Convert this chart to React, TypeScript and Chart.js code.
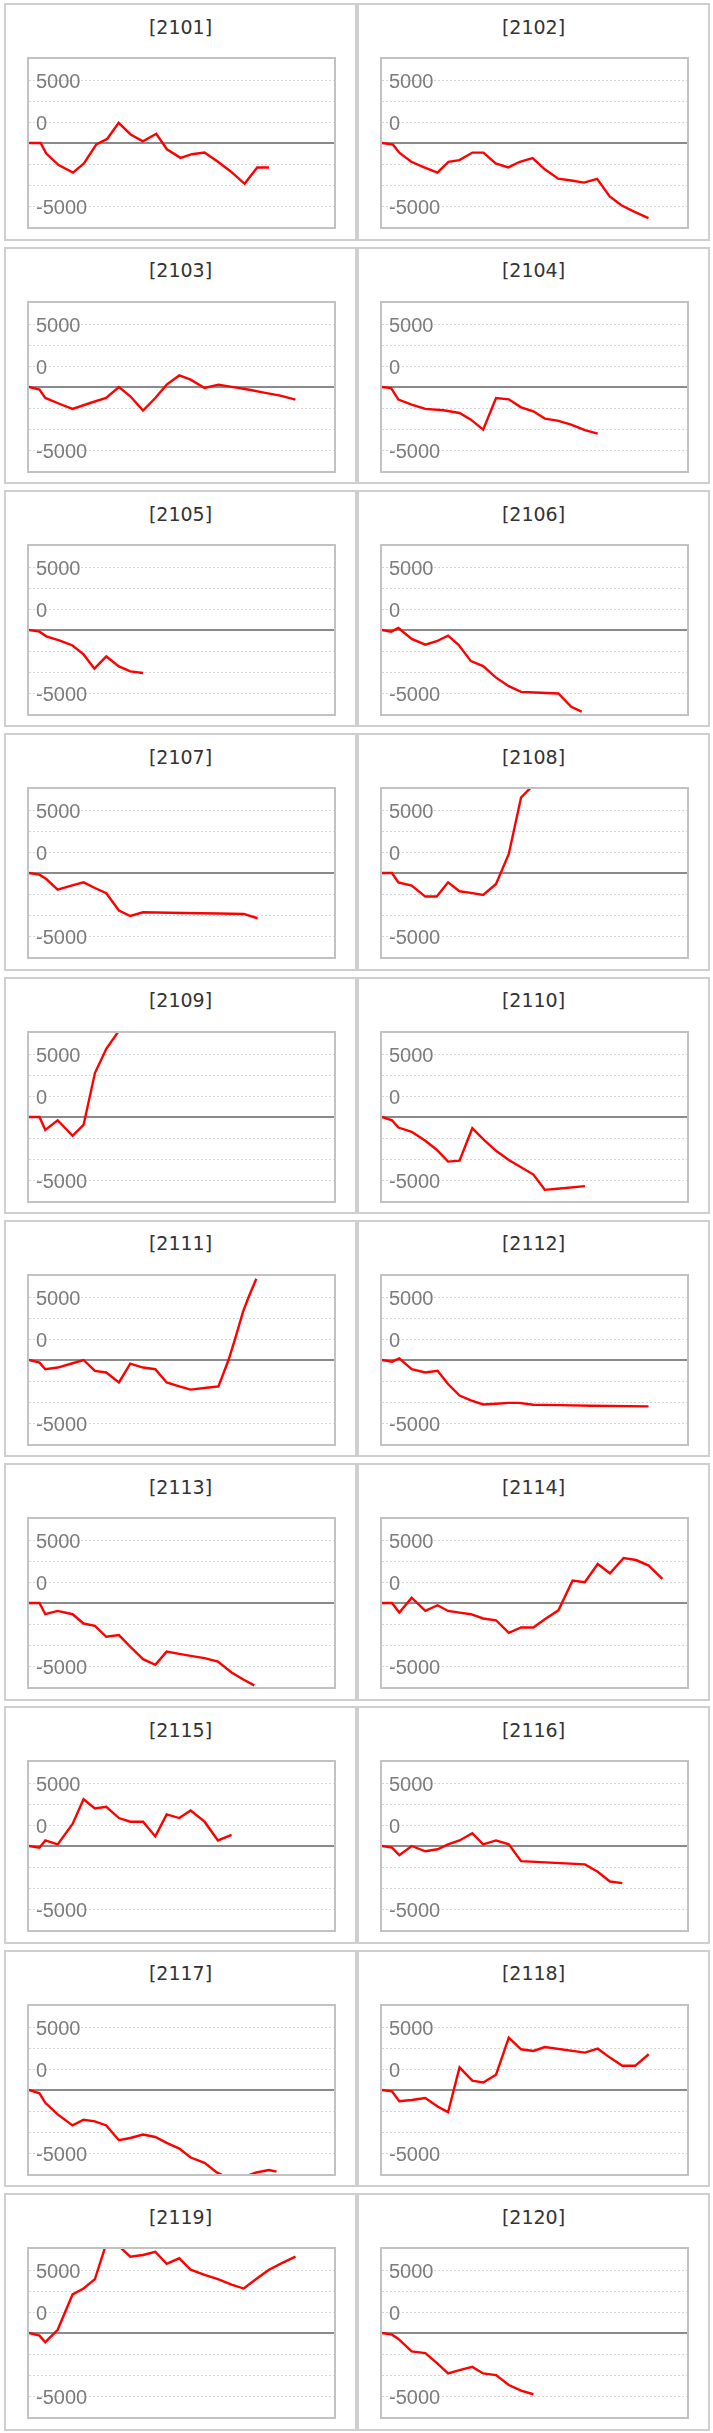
import React, { useEffect, useRef } from "react";
import { Chart, registerables } from "chart.js";

Chart.register(...registerables);

// ---- axis settings ----
const GRID_STEP = 5000 / 3;
const GRID_STEPS = [-4, -3, -2, -1, 0, 1, 2, 3, 4];
const Y_LABEL_TEXTS = ["5000", "0", "-5000"];
const Y_LABEL_STEPS = [3, 1, -3];
const X_MAX = 24.15;

// ---- data (x = trading-step index, y = cumulative value) ----
const X_2101 = [0, 0.92, 1.37, 2.35, 3.48, 4.35, 5.33, 6.2, 7.1, 8.05, 9.02, 10.08, 10.92, 12, 12.9, 13.9, 14.96, 16, 17.07, 18.07, 19];
const Y_2101 = [0, 0, -840, -1750, -2350, -1620, -110, 340, 1600, 680, 130, 730, -500, -1180, -890, -760, -1490, -2280, -3240, -1940, -1940];

const X_2102 = [0, 0.87, 1.39, 2.32, 3.34, 4.39, 5.26, 6.13, 7.16, 8.03, 9, 10, 10.92, 11.92, 12.89, 13.95, 15, 16, 17.03, 18.03, 18.95, 20, 21.1];
const Y_2102 = [0, -130, -790, -1490, -1940, -2350, -1490, -1360, -760, -760, -1620, -1940, -1490, -1200, -2090, -2830, -2980, -3140, -2850, -4240, -4940, -5470, -5960];

const X_2103 = [0, 0.83, 1.29, 2.45, 3.45, 4.78, 6.1, 7.12, 8.02, 9.03, 10, 10.9, 11.9, 12.8, 13.9, 15, 16.3, 17.55, 18.6, 19.9, 21.1];
const Y_2103 = [0, -210, -870, -1350, -1740, -1290, -870, 0, -740, -1870, -870, 190, 920, 580, -80, 190, -30, -240, -450, -690, -1000];

const X_2104 = [0, 0.72, 1.3, 2.35, 3.43, 4.87, 6.14, 7.04, 8.01, 9.03, 10.04, 11.01, 11.99, 12.89, 13.9, 14.98, 16.07, 17.08];
const Y_2104 = [0, -80, -1000, -1400, -1740, -1850, -2060, -2590, -3380, -870, -980, -1610, -1930, -2510, -2670, -2980, -3430, -3700];

const X_2105 = [0, 0.83, 1.37, 2.45, 3.45, 4.32, 5.18, 6.12, 7.12, 8.02, 9.03];
const Y_2105 = [0, -130, -500, -840, -1230, -1940, -3070, -2100, -2890, -3280, -3410];

const X_2106 = [0, 0.72, 1.3, 2.35, 3.43, 4.33, 5.23, 6.06, 7.04, 8.01, 9.03, 10.04, 11.01, 12.09, 13.97, 14.98, 15.81];
const Y_2106 = [0, -130, 160, -710, -1160, -890, -450, -1180, -2470, -2860, -3780, -4460, -4910, -4960, -5040, -6090, -6480];

const X_2107 = [0, 0.83, 1.37, 2.27, 3.35, 4.32, 5.22, 6.12, 7.12, 8.02, 9.03, 12.16, 15.03, 17, 18.1];
const Y_2107 = [0, -130, -480, -1320, -1000, -740, -1190, -1610, -2980, -3410, -3120, -3170, -3220, -3250, -3590];

const X_2108 = [0, 0.79, 1.3, 2.35, 3.43, 4.33, 5.23, 6.14, 7.04, 8.01, 9.03, 10.04, 11.01, 12];
const Y_2108 = [0, 0, -740, -1000, -1870, -1870, -740, -1450, -1580, -1740, -870, 1510, 5990, 7000];

const X_2109 = [0, 0.83, 1.29, 2.27, 3.45, 4.32, 5.22, 6.12, 7.3];
const Y_2109 = [0, 0, -1020, -260, -1500, -630, 3490, 5410, 7100];

const X_2110 = [0, 0.79, 1.3, 2.35, 3.43, 4.33, 5.23, 6.14, 7.15, 8.01, 9.03, 10.04, 11.01, 11.99, 12.89, 13.9, 16.07];
const Y_2110 = [0, -260, -840, -1180, -1890, -2600, -3540, -3470, -890, -1760, -2680, -3410, -3990, -4570, -5780, -5700, -5490];

const X_2111 = [0, 0.83, 1.29, 2.27, 3.45, 4.32, 5.22, 6.12, 7.12, 8.02, 9.03, 10, 10.9, 11.9, 12.8, 13.9, 15, 15.8, 16.3, 16.95, 17.4, 18];
const Y_2111 = [0, -210, -730, -600, -260, 0, -860, -990, -1780, -290, -600, -730, -1780, -2090, -2350, -2220, -2090, 0, 1620, 3840, 5020, 6450];

const X_2112 = [0, 0.79, 1.37, 2.35, 3.43, 4.4, 5.23, 6.14, 7.04, 8.01, 9.03, 10.04, 10.83, 11.99, 14.08, 16.6, 21.1];
const Y_2112 = [0, -130, 130, -730, -990, -860, -1910, -2820, -3210, -3530, -3470, -3400, -3400, -3550, -3580, -3630, -3680];

const X_2113 = [0, 0.83, 1.29, 2.27, 3.45, 4.32, 5.22, 6.12, 7.12, 8.02, 9.03, 10, 10.9, 11.9, 12.8, 13.9, 14.96, 16.04, 17, 17.84];
const Y_2113 = [0, 0, -890, -630, -890, -1630, -1810, -2680, -2550, -3470, -4460, -4910, -3860, -4040, -4200, -4380, -4650, -5510, -6090, -6540];

const X_2114 = [0, 0.79, 1.37, 2.35, 3.43, 4.4, 5.23, 6.14, 7.04, 8.01, 9.03, 10.04, 11.01, 11.99, 12.89, 13.97, 15.09, 16.06, 17.08, 18.05, 19.13, 20.11, 21.12, 22.2];
const Y_2114 = [0, 0, -760, 420, -630, -180, -630, -760, -890, -1230, -1370, -2360, -1940, -1940, -1290, -580, 1790, 1650, 3100, 2360, 3570, 3410, 2970, 1920];

const X_2115 = [0, 0.83, 1.29, 2.27, 3.45, 4.32, 5.22, 6.12, 7.12, 8.02, 9.03, 10, 10.9, 11.9, 12.8, 13.9, 14.96, 16.04];
const Y_2115 = [0, -130, 440, 130, 1750, 3710, 2980, 3110, 2220, 1930, 1930, 760, 2510, 2220, 2820, 1930, 440, 890];

const X_2116 = [0, 0.79, 1.37, 2.35, 3.43, 4.4, 5.23, 6.14, 7.15, 8.01, 9.03, 10.04, 11.01, 16.07, 17.08, 18.05, 19.03];
const Y_2116 = [0, -130, -730, 0, -420, -260, 130, 440, 1020, 130, 440, 130, -1200, -1460, -2040, -2820, -2950];

const X_2117 = [0, 0.83, 1.29, 2.27, 3.45, 4.32, 5.22, 6.12, 7.12, 8.02, 9.03, 10, 10.9, 11.9, 12.8, 13.9, 14.87, 16, 17, 18, 19, 19.6];
const Y_2117 = [0, -260, -1020, -1940, -2810, -2360, -2490, -2810, -3990, -3810, -3540, -3730, -4200, -4650, -5360, -5780, -6540, -7100, -6900, -6550, -6350, -6480];

const X_2118 = [0, 0.79, 1.37, 2.35, 3.43, 4.4, 5.23, 6.14, 7.15, 8.01, 9.03, 10.04, 11.01, 11.99, 12.89, 16.07, 17.08, 18.05, 19.03, 20.04, 21.12];
const Y_2118 = [0, -110, -890, -790, -630, -1310, -1760, 1790, 740, 600, 1210, 4150, 3230, 3100, 3410, 2970, 3280, 2570, 1920, 1920, 2840];

const X_2119 = [0, 0.83, 1.29, 2.27, 3.45, 4.32, 5.22, 6.12, 7.12, 8.02, 9.03, 10, 10.9, 11.9, 12.8, 13.9, 14.96, 16.04, 17, 18.1, 19, 20.1, 21.1];
const Y_2119 = [0, -210, -730, 260, 3060, 3530, 4280, 7100, 6900, 6060, 6190, 6450, 5490, 5930, 5020, 4620, 4280, 3840, 3530, 4360, 5020, 5590, 6060];

const X_2120 = [0, 0.79, 1.3, 2.35, 3.43, 4.4, 5.23, 6.14, 7.15, 8.01, 9.03, 10.04, 11.01, 11.99];
const Y_2120 = [0, -130, -470, -1460, -1590, -2430, -3210, -2950, -2690, -3210, -3340, -4130, -4570, -4860];

const PANEL_TITLES = [
  "2101", "2102", "2103", "2104", "2105", "2106", "2107", "2108", "2109", "2110",
  "2111", "2112", "2113", "2114", "2115", "2116", "2117", "2118", "2119", "2120",
];
const PANEL_X = [X_2101, X_2102, X_2103, X_2104, X_2105, X_2106, X_2107, X_2108, X_2109, X_2110,
  X_2111, X_2112, X_2113, X_2114, X_2115, X_2116, X_2117, X_2118, X_2119, X_2120];
const PANEL_Y = [Y_2101, Y_2102, Y_2103, Y_2104, Y_2105, Y_2106, Y_2107, Y_2108, Y_2109, Y_2110,
  Y_2111, Y_2112, Y_2113, Y_2114, Y_2115, Y_2116, Y_2117, Y_2118, Y_2119, Y_2120];

const stepOf = (v: number) => Math.round(v / GRID_STEP);

function Panel({ title, xs, ys, left, top }: { title: string; xs: number[]; ys: number[]; left: number; top: number }) {
  const ref = useRef<HTMLCanvasElement>(null);
  useEffect(() => {
    const chart = new Chart(ref.current as HTMLCanvasElement, {
      type: "line",
      data: {
        datasets: [
          {
            data: xs.map((x, i) => ({ x, y: ys[i] })),
            borderColor: "#ff0000",
            borderWidth: 2.4,
            pointRadius: 0,
            tension: 0,
            fill: false,
          },
        ],
      },
      options: {
        animation: false,
        responsive: false,
        maintainAspectRatio: false,
        layout: { padding: 0 },
        plugins: { legend: { display: false }, tooltip: { enabled: false } },
        scales: {
          x: { type: "linear", display: false, min: 0, max: X_MAX },
          y: {
            type: "linear",
            min: -4 * GRID_STEP,
            max: 4 * GRID_STEP,
            afterBuildTicks: (scale: any) => {
              scale.ticks = GRID_STEPS.map((k) => ({ value: k * GRID_STEP }));
            },
            afterFit: (scale: any) => {
              scale.width = 0;
              scale.paddingTop = 0;
              scale.paddingBottom = 0;
            },
            ticks: {
              autoSkip: false,
              mirror: true,
              padding: 7,
              labelOffset: 2.5,
              color: "#7c7c7c",
              font: { family: '"Liberation Sans", Arial, sans-serif', size: 20 },
              callback: (value: any) => {
                const idx = Y_LABEL_STEPS.indexOf(stepOf(Number(value)));
                return idx >= 0 ? Y_LABEL_TEXTS[idx] : "";
              },
            },
            grid: {
              drawTicks: false,
              color: (ctx: any) => {
                const k = stepOf(ctx.tick ? ctx.tick.value : 1);
                if (Math.abs(k) >= 4) return "rgba(0,0,0,0)";
                return k === 0 ? "#8a8a8a" : "#d6d6d6";
              },
              lineWidth: (ctx: any) => (ctx.tick && stepOf(ctx.tick.value) === 0 ? 2 : 1),
            },
            border: {
              display: false,
              dash: (ctx: any) => (ctx.tick && stepOf(ctx.tick.value) === 0 ? [] : [2, 2]),
            },
          },
        },
      },
    } as any);
    return () => chart.destroy();
  }, []);

  return (
    <div
      style={{
        position: "absolute",
        left,
        top,
        width: 353,
        height: 237.5,
        boxSizing: "border-box",
        border: "2px solid #cfcfcf",
        background: "#fff",
      }}
    >
      <div
        style={{
          position: "absolute",
          left: 0,
          right: 0,
          top: 9.7,
          lineHeight: "24px",
          textAlign: "center",
          fontFamily: '"DejaVu Sans", Verdana, sans-serif',
          fontSize: 19,
          color: "#333",
        }}
      >
        [{title}]
      </div>
      <div
        style={{
          position: "absolute",
          left: 20.7,
          top: 52,
          width: 305,
          height: 168,
          border: "2px solid #c2c2c2",
        }}
      >
        <canvas ref={ref} width={305} height={168} style={{ display: "block", width: 305, height: 168 }} />
      </div>
    </div>
  );
}

export default function App() {
  return (
    <div style={{ position: "absolute", left: 0, top: 0, width: 713, height: 2433, background: "#fff" }}>
      {PANEL_TITLES.map((t, i) => (
        <Panel
          key={t}
          title={t}
          xs={PANEL_X[i]}
          ys={PANEL_Y[i]}
          left={i % 2 === 0 ? 4 : 357}
          top={3.3 + Math.floor(i / 2) * 243.3}
        />
      ))}
    </div>
  );
}
